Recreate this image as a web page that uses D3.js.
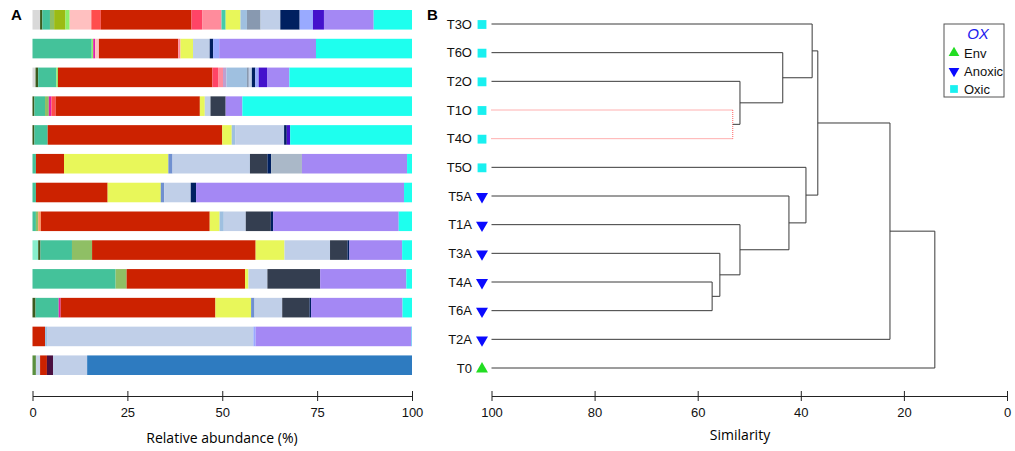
<!DOCTYPE html>
<html>
<head>
<meta charset="utf-8">
<script src="https://cdn.jsdelivr.net/npm/d3@7"></script>
<style>
  body { margin: 0; background: #fff; }
  svg { display: block; font-family: "Liberation Sans", Arial, sans-serif; }
</style>
</head>
<body>
<div id="chart"></div>
<script>
// Samples, top to bottom (panel A rows line up with panel B leaves)
const samples = ["T3O", "T6O", "T2O", "T1O", "T4O", "T5O", "T5A", "T1A", "T3A", "T4A", "T6A", "T2A", "T0"];
const sampleGroup = ["Oxic", "Oxic", "Oxic", "Oxic", "Oxic", "Oxic", "Anoxic", "Anoxic", "Anoxic", "Anoxic", "Anoxic", "Anoxic", "Env"];

// Taxa in stacking order, with their colours
const taxa = ["gray", "mint", "darkolive", "moss", "teal", "olivegreen", "yellowgreen", "lightgreen", "palesteel",
  "magenta", "pink", "redpink", "orange", "red", "rose", "salmon", "teal2", "mauve", "plum", "yellow", "midblue",
  "lightblue", "slategray", "lightsteel", "darkslate", "navy", "periwinkle", "graysteel", "blueviolet", "lavender",
  "cyan", "steelblue"];
const taxaColors = ["#d9d9d9", "#88eecc", "#3d5a1e", "#5b8f3f", "#44c29a", "#8fbf65", "#9bbb14", "#8ef06a", "#c8d4e8",
  "#e020a8", "#ffc0c0", "#ff4d4d", "#ff9966", "#cc2200", "#ff4466", "#ff8c9c", "#44ccaa", "#c0a0d0", "#4a1040",
  "#e8f75a", "#7090d0", "#9fc0e0", "#8899b0", "#c0cfe8", "#343e50", "#002060", "#99aaff", "#aab8c8", "#4411cc",
  "#a488f4", "#1effee", "#2e7bc0"];

// Relative abundance (%) per sample
const abT3O = [["gray", 2.0], ["darkolive", 0.6], ["teal", 2.0], ["olivegreen", 1.1], ["yellowgreen", 3.0], ["lightgreen", 1.1],
  ["pink", 5.7], ["redpink", 2.5], ["red", 23.9], ["rose", 2.8], ["salmon", 5.1], ["teal2", 1.1], ["yellow", 3.9],
  ["lightblue", 1.7], ["slategray", 3.6], ["lightsteel", 5.2], ["navy", 5.1], ["periwinkle", 3.5], ["blueviolet", 2.9],
  ["lavender", 13.1], ["cyan", 10.1]];
const abT6O = [["teal", 15.6], ["lightgreen", 0.4], ["magenta", 0.5], ["pink", 1.0], ["red", 20.9], ["salmon", 0.6],
  ["yellow", 3.3], ["lightsteel", 4.4], ["navy", 0.9], ["periwinkle", 1.6], ["lavender", 25.5], ["cyan", 25.3]];
const abT2O = [["gray", 0.8], ["darkolive", 0.7], ["teal", 4.8], ["lightgreen", 0.4], ["red", 40.7], ["rose", 1.5],
  ["salmon", 1.3], ["mauve", 0.9], ["lightblue", 5.4], ["slategray", 0.5], ["lightsteel", 0.8], ["navy", 0.9],
  ["periwinkle", 0.9], ["blueviolet", 2.2], ["lavender", 5.9], ["cyan", 32.3]];
const abT1O = [["darkolive", 0.5], ["teal", 2.8], ["olivegreen", 1.0], ["magenta", 0.7], ["redpink", 1.1], ["red", 38.0],
  ["yellow", 1.3], ["lightsteel", 1.5], ["darkslate", 4.0], ["lavender", 4.4], ["cyan", 44.7]];
const abT4O = [["darkolive", 0.5], ["teal", 3.5], ["red", 46.0], ["yellow", 2.5], ["lightblue", 0.9], ["lightsteel", 12.9],
  ["navy", 0.7], ["blueviolet", 0.9], ["cyan", 32.1]];
const abT5O = [["teal", 0.9], ["red", 7.4], ["yellow", 27.5], ["midblue", 1.1], ["lightsteel", 20.4], ["darkslate", 4.6],
  ["navy", 1.0], ["graysteel", 8.1], ["lavender", 27.7], ["cyan", 1.3]];
const abT5A = [["teal", 0.9], ["red", 18.9], ["yellow", 14.0], ["midblue", 0.9], ["lightsteel", 7.0], ["navy", 1.4],
  ["lavender", 54.8], ["cyan", 2.1]];
const abT1A = [["teal", 0.9], ["olivegreen", 0.6], ["orange", 0.7], ["red", 44.5], ["yellow", 2.6], ["lightblue", 1.1],
  ["lightsteel", 5.8], ["darkslate", 6.6], ["navy", 0.6], ["lavender", 33.1], ["cyan", 3.5]];
const abT3A = [["mint", 1.5], ["darkolive", 0.6], ["teal", 8.3], ["olivegreen", 5.3], ["red", 43.1], ["yellow", 7.6],
  ["lightsteel", 12.0], ["darkslate", 4.6], ["navy", 0.5], ["lavender", 13.9], ["cyan", 2.6]];
const abT4A = [["teal", 21.9], ["olivegreen", 2.9], ["red", 31.2], ["yellow", 0.9], ["lightsteel", 5.0], ["darkslate", 13.9],
  ["lavender", 22.7], ["cyan", 1.5]];
const abT6A = [["darkolive", 0.8], ["teal", 6.1], ["magenta", 0.5], ["red", 40.8], ["yellow", 9.4], ["midblue", 0.9],
  ["lightsteel", 7.3], ["darkslate", 7.2], ["navy", 0.4], ["lavender", 24.1], ["cyan", 2.5]];
const abT2A = [["red", 3.3], ["lightblue", 0.7], ["lightsteel", 54.2], ["periwinkle", 0.6], ["lavender", 41.1], ["cyan", 0.1]];
const abT0 = [["moss", 0.9], ["palesteel", 1.1], ["red", 1.8], ["plum", 1.6], ["lightsteel", 9.0], ["steelblue", 85.6]];
const abundance = [abT3O, abT6O, abT2O, abT1O, abT4O, abT5O, abT5A, abT1A, abT3A, abT4A, abT6A, abT2A, abT0];

// Dendrogram merges: [left, right, similarity]; "m1".. refer to earlier merges
const merges = [
  ["T1O", "T4O", 53.2],
  ["T2O", "m1", 51.8],
  ["T6O", "m2", 43.5],
  ["T3O", "m3", 37.8],
  ["T4A", "T6A", 57.2],
  ["T3A", "m5", 55.7],
  ["T1A", "m6", 51.8],
  ["T5A", "m7", 42.3],
  ["T5O", "m8", 39.0],
  ["m4", "m9", 36.7],
  ["m10", "T2A", 22.7],
  ["m11", "T0", 14.0]
];
const dottedMerge = "m1";

const abundanceTicks = [0, 25, 50, 75, 100];
const similarityTicks = [100, 80, 60, 40, 20, 0];
const legendItems = ["Env", "Anoxic", "Oxic"];

const width = 1015, height = 451;
const svg = d3.select("#chart").append("svg")
    .attr("width", width)
    .attr("height", height);

const groupColor = { Env: "#22dd22", Anoxic: "#0a0aff", Oxic: "#19f0f0" };
const groupSymbol = { Env: d3.symbolTriangle, Anoxic: d3.symbolTriangle, Oxic: d3.symbolSquare };

// ---------- Panel A: stacked bars ----------
const xA = d3.scaleLinear().domain([0, 100]).range([32.5, 412]);
const yA = d3.scaleBand().domain(samples).range([10, 375]).paddingInner(0.32).paddingOuter(0);
const color = d3.scaleOrdinal().domain(taxa).range(taxaColors);

const table = abundance.map((row, i) => {
    const r = { sample: samples[i] };
    taxa.forEach(t => r[t] = 0);
    row.forEach(([t, v]) => r[t] = v);
    return r;
});
const stacked = d3.stack().keys(taxa)(table);

svg.append("g").selectAll("g")
    .data(stacked)
    .join("g")
    .attr("fill", d => color(d.key))
    .selectAll("rect")
    .data(d => d.filter(p => p[1] - p[0] > 0))
    .join("rect")
    .attr("x", d => xA(d[0]))
    .attr("width", d => xA(d[1]) - xA(d[0]))
    .attr("y", d => yA(d.data.sample))
    .attr("height", yA.bandwidth());

const axisA = svg.append("g")
    .attr("transform", "translate(0,396)")
    .call(d3.axisBottom(xA).tickValues(abundanceTicks).tickSize(5).tickSizeOuter(0).tickPadding(7));
axisA.attr("font-family", null);
axisA.selectAll(".tick line").attr("y1", -5).attr("y2", 5);
axisA.selectAll("path, line").attr("stroke", "#222");
axisA.selectAll("text").style("font-size", "13px").attr("fill", "#111");

svg.append("text")
    .attr("x", 222).attr("y", 443)
    .attr("text-anchor", "middle")
    .style("font-family", "'Open Sans', sans-serif")
    .style("font-size", "14px")
    .text("Relative abundance (%)");

svg.append("text").attr("x", 11).attr("y", 20)
    .style("font-weight", "bold").style("font-size", "15px").text("A");

// ---------- Panel B: dendrogram ----------
const xB = d3.scaleLinear().domain([100, 0]).range([491.5, 1007]);
const yB = d3.scalePoint().domain(samples).range([24, 368]);

const nodes = {};
samples.forEach(s => nodes[s] = { y: yB(s), sim: 100 });
const links = [];
merges.forEach(([a, b, sim], i) => {
    const id = "m" + (i + 1);
    const na = nodes[a], nb = nodes[b];
    const dotted = id === dottedMerge;
    links.push({ x1: xB(na.sim), x2: xB(sim), y1: na.y, y2: na.y, dotted });
    links.push({ x1: xB(nb.sim), x2: xB(sim), y1: nb.y, y2: nb.y, dotted });
    links.push({ x1: xB(sim), x2: xB(sim), y1: na.y, y2: nb.y, dotted });
    nodes[id] = { y: (na.y + nb.y) / 2, sim };
});

svg.append("g").selectAll("line")
    .data(links)
    .join("line")
    .attr("x1", d => d.x1).attr("x2", d => d.x2)
    .attr("y1", d => d.y1).attr("y2", d => d.y2)
    .attr("stroke", d => d.dotted ? "#ff6060" : "#3a3a3a")
    .attr("stroke-width", 1)
    .attr("stroke-dasharray", d => d.dotted ? "1,1" : null);

// leaf labels and symbols
const leaf = svg.append("g").selectAll("g")
    .data(samples)
    .join("g")
    .attr("transform", d => `translate(0,${yB(d)})`);
leaf.append("text")
    .attr("x", 472).attr("dy", "0.36em")
    .attr("text-anchor", "end")
    .style("font-size", "13px")
    .attr("fill", "#111")
    .text(d => d);
leaf.append("path")
    .attr("transform", (d, i) => {
        const g = sampleGroup[i];
        return `translate(482,${g === "Env" ? 1 : 0.5})` + (g === "Anoxic" ? " rotate(180)" : "");
    })
    .attr("d", (d, i) => d3.symbol().type(groupSymbol[sampleGroup[i]]).size(sampleGroup[i] === "Oxic" ? 78 : 62)())
    .attr("fill", (d, i) => groupColor[sampleGroup[i]]);

const axisB = svg.append("g")
    .attr("transform", "translate(0,396)")
    .call(d3.axisBottom(xB).tickValues(similarityTicks).tickSize(5).tickSizeOuter(0).tickPadding(7));
axisB.attr("font-family", null);
axisB.selectAll(".tick line").attr("y1", -5).attr("y2", 5);
axisB.selectAll("path, line").attr("stroke", "#222");
axisB.selectAll("text").style("font-size", "13px").attr("fill", "#111");

svg.append("text")
    .attr("x", 740).attr("y", 440)
    .attr("text-anchor", "middle")
    .style("font-family", "'Open Sans', sans-serif")
    .style("font-size", "14px")
    .text("Similarity");

svg.append("text").attr("x", 427).attr("y", 20)
    .style("font-weight", "bold").style("font-size", "15px").text("B");

// legend
const legend = svg.append("g").attr("transform", "translate(944,24)");
legend.append("rect")
    .attr("width", 60).attr("height", 73)
    .attr("fill", "#fff").attr("stroke", "#555");
legend.append("text")
    .attr("x", 34).attr("y", 15)
    .attr("text-anchor", "middle")
    .style("font-style", "italic").style("font-size", "15px")
    .attr("fill", "#2020ee")
    .text("OX");
const li = legend.selectAll(".li")
    .data(legendItems)
    .join("g")
    .attr("transform", (d, i) => `translate(0,${29 + i * 18})`);
li.append("path")
    .attr("transform", d => `translate(10,0)` + (d === "Anoxic" ? " rotate(180)" : ""))
    .attr("d", d => d3.symbol().type(groupSymbol[d]).size(d === "Oxic" ? 60 : 50)())
    .attr("fill", d => groupColor[d]);
legend.selectAll(".lt")
    .data(legendItems)
    .join("text")
    .attr("x", 20).attr("y", (d, i) => 29 + i * 18)
    .attr("dy", "0.36em")
    .style("font-size", "13px")
    .attr("fill", "#111")
    .text(d => d);
</script>
</body>
</html>
